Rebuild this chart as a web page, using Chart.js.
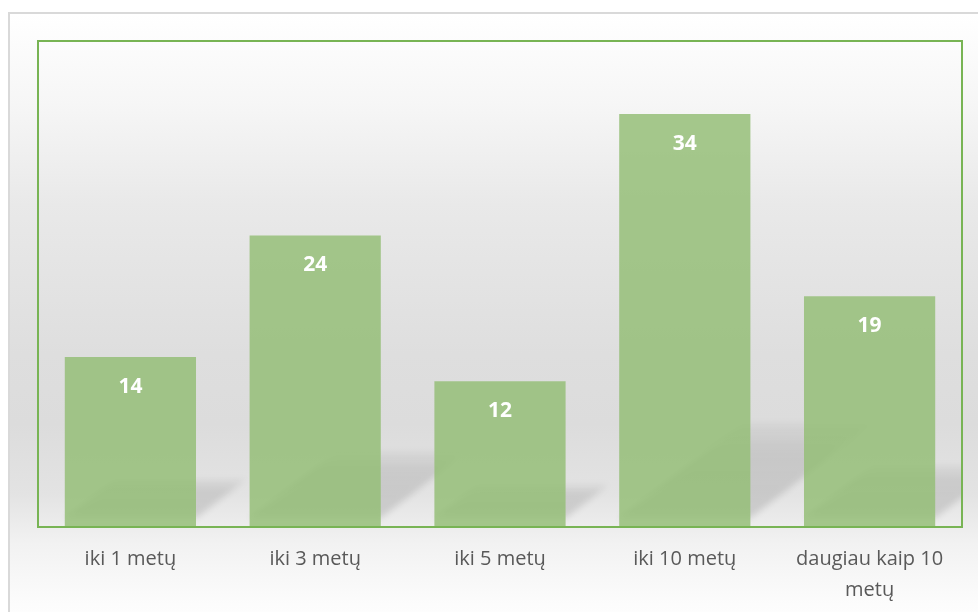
<!DOCTYPE html>
<html>
<head>
<meta charset="utf-8">
<script src="https://cdn.jsdelivr.net/npm/chart.js@4/dist/chart.umd.min.js"></script>
<style>
  html, body { margin: 0; padding: 0; background: #ffffff; width: 978px; height: 612px; overflow: hidden; }
  #frame {
    position: absolute; left: 8px; top: 12px; width: 990px; height: 620px;
    border: 2px solid #d9d9d9; box-sizing: border-box;
    background: linear-gradient(to bottom, #ffffff 0px, #f6f6f6 90px, #e9e9e9 190px, #dedede 340px, #dcdcdc 410px, #e3e3e3 480px, #f2f2f2 530px, #fcfcfc 590px, #ffffff 620px);
  }
  #wrap { position: absolute; left: 0; top: 0; width: 978px; height: 612px; }
</style>
</head>
<body>
<div id="frame"></div>
<div id="wrap"><canvas id="c" width="978" height="612"></canvas></div>
<script>
const categories = ['iki 1 metų', 'iki 3 metų', 'iki 5 metų', 'iki 10 metų', ['daugiau kaip 10', 'metų']];
const values = [14, 24, 12, 34, 19];
const yMin = 0;
const yMax = 40;

const shadowPlugin = {
  id: 'barShadows',
  beforeDatasetsDraw(chart) {
    const ctx = chart.ctx;
    const meta = chart.getDatasetMeta(0);
    const area = chart.chartArea;
    ctx.save();
    ctx.beginPath();
    ctx.rect(area.left, area.top, area.right - area.left, area.bottom - area.top);
    ctx.clip();
    ctx.filter = 'blur(3px)';
    meta.data.forEach(bar => {
      const p = bar.getProps(['x', 'y', 'base', 'width'], true);
      const left = p.x - p.width / 2, right = p.x + p.width / 2;
      const base = p.base - 9;
      const h = 0.23 * (p.base - p.y);
      const dx = 1.3 * h;
      const g = ctx.createLinearGradient(0, base, 0, base - h);
      g.addColorStop(0, 'rgba(0,0,0,0.12)');
      g.addColorStop(0.7, 'rgba(0,0,0,0.10)');
      g.addColorStop(1, 'rgba(0,0,0,0.03)');
      ctx.fillStyle = g;
      ctx.beginPath();
      ctx.moveTo(left, base);
      ctx.lineTo(right, base);
      ctx.lineTo(right + dx, base - h);
      ctx.lineTo(left + dx, base - h);
      ctx.closePath();
      ctx.fill();
    });
    ctx.restore();
  },
  afterDatasetsDraw(chart) {
    const ctx = chart.ctx;
    const meta = chart.getDatasetMeta(0);
    ctx.save();
    ctx.fillStyle = '#ffffff';
    ctx.font = 'bold 21px "Open Sans", Lato, sans-serif';
    ctx.textAlign = 'center';
    ctx.textBaseline = 'middle';
    meta.data.forEach((bar, i) => {
      ctx.fillText(String(values[i]), bar.x, bar.y + 30);
    });
    const a = chart.chartArea;
    ctx.strokeStyle = '#78b454';
    ctx.lineWidth = 2;
    ctx.strokeRect(a.left, a.top, a.right - a.left, a.bottom - a.top);
    ctx.restore();
  }
};

new Chart(document.getElementById('c'), {
  type: 'bar',
  data: {
    labels: categories,
    datasets: [{
      data: values,
      backgroundColor: 'rgba(146,189,116,0.82)',
      borderWidth: 0,
      categoryPercentage: 0.71,
      barPercentage: 1.0
    }]
  },
  options: {
    responsive: false,
    animation: false,
    devicePixelRatio: 1,
    layout: { padding: { left: 38, right: 16, top: 41, bottom: 0 } },
    plugins: { legend: { display: false }, tooltip: { enabled: false } },
    scales: {
      y: { display: false, min: yMin, max: yMax },
      x: {
        grid: { display: false },
        border: { display: false },
        ticks: {
          color: '#595959',
          font: { family: '"Open Sans", Lato, sans-serif', size: 20, lineHeight: 1.55 },
          padding: 9,
          maxRotation: 0,
          autoSkip: false
        },
        afterFit(scale) { scale.height = 85; }
      }
    }
  },
  plugins: [shadowPlugin]
});
</script>
</body>
</html>
